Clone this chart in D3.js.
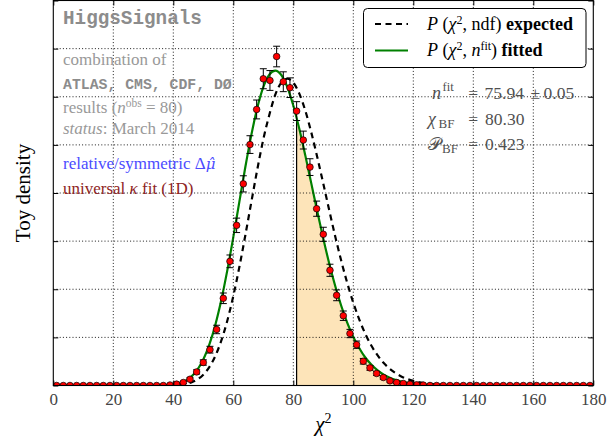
<!DOCTYPE html>
<html>
<head>
<meta charset="utf-8">
<script src="https://cdnjs.cloudflare.com/ajax/libs/d3/7.8.5/d3.min.js"></script>
<style>
  body { margin: 0; background: #fff; }
  text { font-family: "Liberation Serif", "DejaVu Serif", serif; }
  .mono { font-family: "Liberation Mono", "DejaVu Sans Mono", monospace; font-weight: bold; }
</style>
</head>
<body>
<div id="chart"></div>
<script>
// Histogram of toy chi2 values (81 bins between 0 and 180)
var histLow = 0, histHigh = 180;
var toyDensity = [
  0, 0, 0, 0, 0, 0, 0, 0, 0, 0,
  0, 0, 0, 0, 0, 0, 0, 0.00005, 0.00014, 0.00031,
  0.00065, 0.00141, 0.00239, 0.00372, 0.00582, 0.00906, 0.0129, 0.01664, 0.02095, 0.02503,
  0.02868, 0.03187, 0.03169, 0.03418, 0.03156, 0.03094, 0.02851, 0.0255, 0.02269, 0.01837,
  0.01571, 0.01197, 0.00937, 0.00725, 0.0054, 0.00424, 0.00252, 0.00183, 0.00125, 0.00083,
  0.00048, 0.00031, 0.00021, 0.00013, 0.00007, 0.00004, 0, 0, 0, 0,
  0, 0, 0, 0, 0, 0, 0, 0, 0, 0,
  0, 0, 0, 0, 0, 0, 0, 0, 0, 0,
  0
];
var toyError = [
  0, 0, 0, 0, 0, 0, 0, 0, 0, 0,
  0, 0, 0, 0, 0, 0, 0, 0.00005, 0.00007, 0.0001,
  0.00015, 0.00022, 0.00028, 0.00035, 0.00044, 0.00055, 0.00066, 0.00075, 0.00084, 0.00092,
  0.00098, 0.00104, 0.00103, 0.00107, 0.00103, 0.00102, 0.00098, 0.00093, 0.00087, 0.00079,
  0.00073, 0.00063, 0.00056, 0.00049, 0.00043, 0.00038, 0.00029, 0.00025, 0.00021, 0.00017,
  0.00013, 0.0001, 0.00008, 0.00007, 0.00005, 0.00004, 0, 0, 0, 0,
  0, 0, 0, 0, 0, 0, 0, 0, 0, 0,
  0, 0, 0, 0, 0, 0, 0, 0, 0, 0,
  0
];

// Curves: chi2 values and densities
var curveX = [0, 20, 30, 36, 38, 40, 42, 44, 46, 48, 50, 52, 54, 56, 58, 60, 62, 64, 66, 68,
  70, 72, 74, 76, 78, 80, 82, 84, 86, 88, 90, 92, 94, 96, 98, 100, 102, 104, 106, 108,
  110, 112, 114, 116, 118, 120, 124, 128, 132, 136, 140, 160, 180];
var fittedY = [0, 0, 0, 0.000016, 0.000043, 0.000105, 0.000234, 0.000481, 0.000916, 0.001625,
  0.0027, 0.00424, 0.00629, 0.00888, 0.01196, 0.01541, 0.01905, 0.02267, 0.02601, 0.02885,
  0.03099, 0.0323, 0.03272, 0.03226, 0.03101, 0.02909, 0.02667, 0.02391, 0.021, 0.01807,
  0.01526, 0.01265, 0.01031, 0.00826, 0.00651, 0.00505, 0.00387, 0.00291, 0.00217, 0.001593,
  0.001155, 0.000827, 0.000585, 0.00041, 0.000284, 0.000194, 0.000088, 0.000039, 0.000016, 0.000007, 0, 0, 0];
var expectedY = [0, 0, 0, 0, 0.00001, 0.000028, 0.000069, 0.000155, 0.000322, 0.000623,
  0.001127, 0.001913, 0.003066, 0.00466, 0.00673, 0.0093, 0.01228, 0.01559, 0.01904, 0.02245,
  0.02557, 0.02811, 0.03022, 0.03146, 0.03187, 0.03147, 0.03033, 0.02856, 0.02629, 0.02371,
  0.02097, 0.01817, 0.01546, 0.01293, 0.01063, 0.0086, 0.00685, 0.00537, 0.00415, 0.00317,
  0.00238, 0.001771, 0.001299, 0.000945, 0.000675, 0.000478, 0.000233, 0.000109, 0.000049, 0.000021, 0.000009, 0, 0];

var chi2Start = 81.1;   // left edge of the shaded tail
var xTicks = [0, 20, 40, 60, 80, 100, 120, 140, 160, 180];
var yTicks = [0, 0.005, 0.01, 0.015, 0.02, 0.025, 0.03, 0.035, 0.04];

document.addEventListener('DOMContentLoaded', function () {

  var W = 616, H = 443;
  var svg = d3.select("#chart").append("svg")
    .attr("width", W).attr("height", H);

  var x = d3.scaleLinear().domain([0, 180]).range([53.3, 593.3]);
  var y = d3.scaleLinear().domain([0, 0.04]).range([385.5, 0.5]);

  var binW = (histHigh - histLow) / toyDensity.length;
  var bins = toyDensity.map(function (d, i) {
    return {c: histLow + (i + 0.5) * binW, v: d, e: toyError[i]};
  });

  svg.append("clipPath").attr("id", "plotClip")
    .append("rect")
    .attr("x", x(0)).attr("y", y(0.04))
    .attr("width", x(180) - x(0)).attr("height", y(0) - y(0.04));

  var plot = svg.append("g").attr("clip-path", "url(#plotClip)");

  // shaded tail under the fitted curve
  var area = d3.area()
    .x(function (d, i) { return x(curveX[i]); })
    .y0(y(0))
    .y1(function (d) { return y(d); })
    .curve(d3.curveMonotoneX);

  svg.append("clipPath").attr("id", "tailClip")
    .append("rect")
    .attr("x", x(chi2Start)).attr("y", 0)
    .attr("width", x(180) - x(chi2Start)).attr("height", y(0));
  svg.append("clipPath").attr("id", "areaClip")
    .append("path").attr("d", area(fittedY));

  plot.append("path")
    .attr("d", area(fittedY))
    .attr("fill", "#fde4b9")
    .attr("clip-path", "url(#tailClip)");
  plot.append("line")
    .attr("x1", x(chi2Start)).attr("x2", x(chi2Start))
    .attr("y1", y(0)).attr("y2", 0)
    .attr("stroke", "#000").attr("stroke-width", 1.2)
    .attr("clip-path", "url(#areaClip)");

  // dotted grid
  var grid = svg.append("g");
  grid.selectAll(".vg").data(xTicks.slice(1, -1)).enter().append("line")
    .attr("x1", function (d) { return x(d); }).attr("x2", function (d) { return x(d); })
    .attr("y1", y(0)).attr("y2", y(0.04));
  grid.selectAll(".hg").data(yTicks.slice(1, -1)).enter().append("line")
    .attr("x1", x(0)).attr("x2", x(180))
    .attr("y1", function (d) { return y(d); }).attr("y2", function (d) { return y(d); });
  grid.selectAll("line")
    .attr("stroke", "#000").attr("stroke-width", 0.9).attr("stroke-dasharray", "1,2.2");

  // curves
  var line = d3.line()
    .x(function (d, i) { return x(curveX[i]); })
    .y(function (d) { return y(d); })
    .curve(d3.curveMonotoneX);

  plot.append("path").attr("d", line(expectedY))
    .attr("fill", "none").attr("stroke", "#000")
    .attr("stroke-width", 2.2).attr("stroke-dasharray", "6,4.5");
  plot.append("path").attr("d", line(fittedY))
    .attr("fill", "none").attr("stroke", "#008000")
    .attr("stroke-width", 2.2);

  // error bars
  var eb = plot.selectAll(".eb").data(bins.filter(function (b) { return b.e > 0; }))
    .enter().append("g").attr("stroke", "#000").attr("stroke-width", 1);
  eb.append("line")
    .attr("x1", function (d) { return x(d.c); }).attr("x2", function (d) { return x(d.c); })
    .attr("y1", function (d) { return y(d.v - d.e); }).attr("y2", function (d) { return y(d.v + d.e); });
  eb.append("line")
    .attr("x1", function (d) { return x(d.c) - 3.5; }).attr("x2", function (d) { return x(d.c) + 3.5; })
    .attr("y1", function (d) { return y(d.v + d.e); }).attr("y2", function (d) { return y(d.v + d.e); });
  eb.append("line")
    .attr("x1", function (d) { return x(d.c) - 3.5; }).attr("x2", function (d) { return x(d.c) + 3.5; })
    .attr("y1", function (d) { return y(d.v - d.e); }).attr("y2", function (d) { return y(d.v - d.e); });

  // toy points
  plot.selectAll(".dot").data(bins).enter().append("circle")
    .attr("cx", function (d) { return x(d.c); })
    .attr("cy", function (d) { return y(d.v); })
    .attr("r", 3.3)
    .attr("fill", "#ff0000").attr("stroke", "#000").attr("stroke-width", 0.7);

  // axes with inward ticks
  var axB = svg.append("g").attr("transform", "translate(0," + y(0) + ")")
    .call(d3.axisBottom(x).tickValues(xTicks).tickSize(-5).tickPadding(7.5).tickFormat(d3.format("d")));
  var axT = svg.append("g").attr("transform", "translate(0," + y(0.04) + ")")
    .call(d3.axisTop(x).tickValues(xTicks).tickSize(-5).tickFormat(""));
  var axL = svg.append("g").attr("transform", "translate(" + x(0) + ",0)")
    .call(d3.axisLeft(y).tickValues(yTicks).tickSize(-5).tickFormat(""));
  var axR = svg.append("g").attr("transform", "translate(" + x(180) + ",0)")
    .call(d3.axisRight(y).tickValues(yTicks).tickSize(-5).tickFormat(""));
  [axB, axT, axL, axR].forEach(function (a) {
    a.select(".domain").remove();
    a.selectAll(".tick line").attr("stroke", "#000").attr("stroke-width", 1);
  });
  axB.selectAll(".tick text")
    .style("font-family", "'Liberation Serif', serif")
    .style("font-size", "17px").attr("fill", "#444");

  svg.append("rect")
    .attr("x", x(0)).attr("y", y(0.04))
    .attr("width", x(180) - x(0)).attr("height", y(0) - y(0.04))
    .attr("fill", "none").attr("stroke", "#000").attr("stroke-width", 1.1);

  // axis titles
  var xl = svg.append("text").attr("x", x(90)).attr("y", 431)
    .attr("text-anchor", "middle").style("font-size", "21px");
  xl.append("tspan").style("font-style", "italic").text("χ");
  xl.append("tspan").attr("dy", -8).style("font-size", "14px").text("2");

  svg.append("text")
    .attr("transform", "translate(30,193) rotate(-90)")
    .attr("text-anchor", "middle").style("font-size", "21px")
    .text("Toy density");

  // left annotation block
  svg.append("text").attr("class", "mono").attr("x", 63).attr("y", 23.5)
    .style("font-size", "19.3px").attr("fill", "#8c8c8c").text("HiggsSignals");
  svg.append("text").attr("x", 63).attr("y", 65)
    .style("font-size", "17px").attr("fill", "#999").text("combination of");
  svg.append("text").attr("class", "mono").attr("x", 63).attr("y", 88.5)
    .style("font-size", "14.8px").attr("fill", "#8c8c8c").text("ATLAS, CMS, CDF, DØ");

  var r = svg.append("text").attr("x", 63).attr("y", 113)
    .style("font-size", "17px").attr("fill", "#999");
  r.append("tspan").text("results (");
  r.append("tspan").style("font-style", "italic").text("n");
  r.append("tspan").attr("dy", -6).style("font-size", "11.5px").text("obs");
  r.append("tspan").attr("dy", 6).text(" = 80)");

  var s = svg.append("text").attr("x", 63).attr("y", 133.5)
    .style("font-size", "17px").attr("fill", "#999");
  s.append("tspan").style("font-style", "italic").text("status");
  s.append("tspan").text(": March 2014");

  var b = svg.append("text").attr("x", 63).attr("y", 168.5)
    .style("font-size", "17px").attr("fill", "#4b4bff");
  b.append("tspan").text("relative/symmetric Δ");
  b.append("tspan").style("font-style", "italic")
    .style("font-family", "'DejaVu Serif', serif").style("font-size", "15px").text("μ̂");
  var u = svg.append("text").attr("x", 63).attr("y", 193.5)
    .style("font-size", "17px").attr("fill", "#8e2424");
  u.append("tspan").text("universal ");
  u.append("tspan").style("font-style", "italic").text("κ");
  u.append("tspan").text(" fit (1D)");

  // legend
  svg.append("rect").attr("x", 363.5).attr("y", 8.5).attr("width", 222.5).attr("height", 59)
    .attr("rx", 4).attr("fill", "#fff").attr("stroke", "#000").attr("stroke-width", 1);
  svg.append("line").attr("x1", 375).attr("x2", 408).attr("y1", 24).attr("y2", 24)
    .attr("stroke", "#000").attr("stroke-width", 2.2).attr("stroke-dasharray", "6,4.5");
  svg.append("line").attr("x1", 375).attr("x2", 408).attr("y1", 50.5).attr("y2", 50.5)
    .attr("stroke", "#008000").attr("stroke-width", 2.2);

  var l1 = svg.append("text").attr("x", 427).attr("y", 29.5).style("font-size", "18px");
  l1.append("tspan").style("font-style", "italic").text("P");
  l1.append("tspan").text(" (");
  l1.append("tspan").style("font-style", "italic").text("χ");
  l1.append("tspan").attr("dy", -6).style("font-size", "12px").text("2");
  l1.append("tspan").attr("dy", 6).text(", ndf) ");
  l1.append("tspan").style("font-weight", "bold").text("expected");

  var l2 = svg.append("text").attr("x", 427).attr("y", 56).style("font-size", "18px");
  l2.append("tspan").style("font-style", "italic").text("P");
  l2.append("tspan").text(" (");
  l2.append("tspan").style("font-style", "italic").text("χ");
  l2.append("tspan").attr("dy", -6).style("font-size", "12px").text("2");
  l2.append("tspan").attr("dy", 6).text(", ");
  l2.append("tspan").style("font-style", "italic").text("n");
  l2.append("tspan").attr("dy", -6).style("font-size", "12px").text("fit");
  l2.append("tspan").attr("dy", 6).text(") ");
  l2.append("tspan").style("font-weight", "bold").text("fitted");

  // fit results, pieces placed like the math layout
  var statCol = "#505050";
  function stat(xp, yp, txt, size, italic) {
    return svg.append("text").attr("x", xp).attr("y", yp)
      .style("font-size", size + "px").style("font-style", italic ? "italic" : "normal")
      .attr("fill", statCol).text(txt);
  }
  stat(432, 98.5, "n", 18, true);
  stat(442.5, 91, "fit", 12.5, false);
  stat(468.3, 98.5, "=", 17.5, false);
  stat(484.5, 98.5, "75.94", 17.5, false);
  stat(530.5, 98.5, "±", 17.5, false);
  stat(543.5, 98.5, "0.05", 17.5, false);

  stat(428, 124.5, "χ", 18, true);
  stat(438.5, 128, "BF", 13, false);
  stat(468.3, 124.5, "=", 17.5, false);
  stat(485, 124.5, "80.30", 17.5, false);

  stat(427.5, 149.5, "𝒫", 17.5, false);
  stat(442, 153, "BF", 13, false);
  stat(468.3, 149.5, "=", 17.5, false);
  stat(485, 149.5, "0.423", 17.5, false);
});
</script>
</body>
</html>
